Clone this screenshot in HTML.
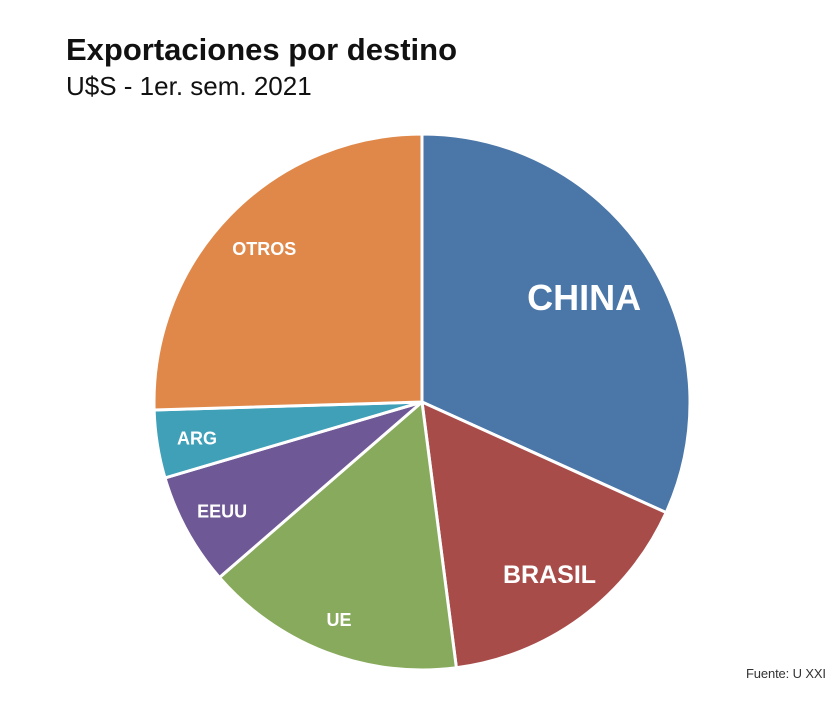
<!DOCTYPE html>
<html><head><meta charset="utf-8"><style>
body{margin:0;background:#fff;width:840px;height:709px;overflow:hidden;font-family:"Liberation Sans",sans-serif}
svg{position:absolute;left:0;top:0}
</style></head><body>
<svg width="840" height="709">
<text x="66" y="60" font-size="31" font-weight="bold" fill="#111">Exportaciones por destino</text>
<text x="66" y="95" font-size="26" fill="#111">U$S - 1er. sem. 2021</text>
<g id="slices"></g>
<g id="labels"></g>
<text x="826" y="678" font-size="13" fill="#333" text-anchor="end" textLength="80">Fuente: U XXI</text>
</svg>
<script>
const categories=["CHINA","BRASIL","UE","EEUU","ARG","OTROS"];
const values=[31.8,16.2,15.7,6.8,4.1,25.5];
const colors=["#4a76a8","#a84c4a","#88aa5c","#6f5896","#3fa0b8","#e0884a"];
const fontSizes=[36,25,18,18,18,18];
const labelR=[0.72,0.8,0.87,0.85,0.85,0.82];
const cx=422,cy=402,r=268;
const total=values.reduce((a,b)=>a+b,0);
const ns="http://www.w3.org/2000/svg";
const gs=document.getElementById('slices'),gl=document.getElementById('labels');
let a0=0;
function pt(a,rr){return [cx+rr*Math.sin(a),cy-rr*Math.cos(a)];}
values.forEach((v,i)=>{
  const a1=a0+v/total*2*Math.PI;
  const p0=pt(a0,r),p1=pt(a1,r);
  const large=(a1-a0)>Math.PI?1:0;
  const p=document.createElementNS(ns,'path');
  p.setAttribute('d',`M${cx},${cy}L${p0[0]},${p0[1]}A${r},${r} 0 ${large} 1 ${p1[0]},${p1[1]}Z`);
  p.setAttribute('fill',colors[i]);p.setAttribute('stroke','#fff');p.setAttribute('stroke-width','3');
  
  
  gs.appendChild(p);
  const m=(a0+a1)/2,lp=pt(m,r*labelR[i]);
  const t=document.createElementNS(ns,'text');
  t.setAttribute('x',lp[0]);t.setAttribute('y',lp[1]+fontSizes[i]*0.35);
  t.setAttribute('text-anchor','middle');t.setAttribute('fill','#fff');
  t.setAttribute('font-weight','bold');t.setAttribute('font-size',fontSizes[i]);
  t.textContent=categories[i];
  
  
  gl.appendChild(t);
  a0=a1;
});
</script>
</body></html>
